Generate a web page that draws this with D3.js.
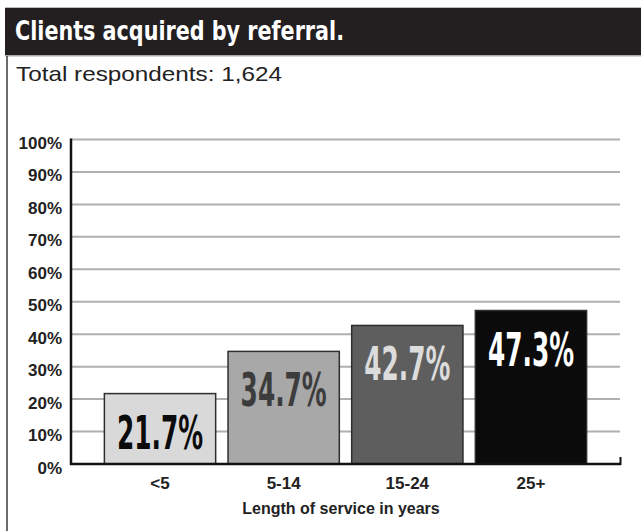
<!DOCTYPE html>
<html>
<head>
<meta charset="utf-8">
<script src="https://cdn.jsdelivr.net/npm/d3@7/dist/d3.min.js"></script>
<style>
  html, body { margin: 0; padding: 0; background: #fff; }
  svg { display: block; font-family: "Liberation Sans", Arial, sans-serif; }
</style>
</head>
<body>
<svg id="chart" width="641" height="531"></svg>
<script>
// Share of clients acquired by referral, by advisor's length of service
const categories = ["<5", "5-14", "15-24", "25+"];
const values = [21.7, 34.7, 42.7, 47.3];
const yTicks = [0, 10, 20, 30, 40, 50, 60, 70, 80, 90, 100];
const barColors = ["#d9d9d9", "#a8a8a8", "#5e5e5e", "#0b0b0b"];
const labelColors = ["#0b0b0b", "#3c3c3c", "#dcdcdc", "#ffffff"];

const svg = d3.select("#chart");
const W = 641, H = 531;
const heavy = "'DejaVu Sans', sans-serif";

// Header band
svg.append("rect").attr("x", 5).attr("y", 7).attr("width", W - 5).attr("height", 1)
  .attr("fill", "#bdbdbd");
svg.append("rect").attr("x", 5).attr("y", 8).attr("width", W - 5).attr("height", 47)
  .attr("fill", "#231f20");
svg.append("rect").attr("x", 5).attr("y", 55).attr("width", W - 5).attr("height", 1.5)
  .attr("fill", "#a9a9a9");
svg.append("text").attr("x", 15).attr("y", 39.5)
  .attr("fill", "#ffffff").attr("font-size", 26).attr("font-weight", "bold")
  .style("font-family", heavy)
  .attr("textLength", 329).attr("lengthAdjust", "spacingAndGlyphs")
  .text("Clients acquired by referral.");

// Left frame line
svg.append("line").attr("x1", 7).attr("x2", 7).attr("y1", 56).attr("y2", H)
  .attr("stroke", "#3a3a3a").attr("stroke-width", 1.5);

svg.append("text").attr("x", 16).attr("y", 81)
  .attr("fill", "#222").attr("font-size", 21)
  .attr("textLength", 266).attr("lengthAdjust", "spacingAndGlyphs")
  .text("Total respondents: 1,624");

// Scales
const x = d3.scaleBand().domain(categories).range([71, 620])
  .paddingInner(0.1).paddingOuter(0.27);
const y = d3.scaleLinear().domain([0, 100]).range([464, 139.5]);

// Gridlines
svg.append("g").selectAll("line").data(yTicks.filter(t => t > 0)).join("line")
  .attr("x1", 71).attr("x2", 620)
  .attr("y1", d => y(d)).attr("y2", d => y(d))
  .attr("stroke", "#b0b0b0").attr("stroke-width", 2);

// Y tick labels
svg.append("g").selectAll("text").data(yTicks).join("text")
  .attr("x", 62).attr("y", d => y(d) + 9.5)
  .attr("text-anchor", "end")
  .attr("font-size", 17).attr("font-weight", "bold").attr("fill", "#222")
  .text(d => d + "%");

// Bars
svg.append("g").selectAll("rect").data(values).join("rect")
  .attr("x", (d, i) => x(categories[i]))
  .attr("y", d => y(d))
  .attr("width", x.bandwidth())
  .attr("height", d => y(0) - y(d))
  .attr("fill", (d, i) => barColors[i])
  .attr("stroke", "#2e2e2e").attr("stroke-width", 1.5);

// Value labels inside bars (condensed heavy figures)
svg.append("g").selectAll("text").data(values).join("text")
  .attr("transform", (d, i) =>
    `translate(${x(categories[i]) + x.bandwidth() / 2},${y(d) + 55}) scale(0.54,1)`)
  .attr("text-anchor", "middle")
  .style("font-family", heavy)
  .attr("font-size", 46).attr("font-weight", "bold")
  .attr("fill", (d, i) => labelColors[i])
  .text(d => d.toFixed(1) + "%");

// Axes lines
svg.append("line").attr("x1", 71).attr("x2", 71).attr("y1", 138.5).attr("y2", 465)
  .attr("stroke", "#111").attr("stroke-width", 2.5);
svg.append("line").attr("x1", 70).attr("x2", 621).attr("y1", 464).attr("y2", 464)
  .attr("stroke", "#111").attr("stroke-width", 2.5);
svg.append("line").attr("x1", 620.5).attr("x2", 620.5).attr("y1", 457).attr("y2", 465)
  .attr("stroke", "#111").attr("stroke-width", 2);

// X tick labels
svg.append("g").selectAll("text").data(categories).join("text")
  .attr("x", d => x(d) + x.bandwidth() / 2).attr("y", 488.5)
  .attr("text-anchor", "middle")
  .attr("font-size", 17).attr("font-weight", "bold").attr("fill", "#222")
  .text(d => d);

// X axis title
svg.append("text").attr("x", 341).attr("y", 513.5)
  .attr("text-anchor", "middle")
  .attr("font-size", 16).attr("font-weight", "bold").attr("fill", "#222")
  .text("Length of service in years");
</script>
</body>
</html>
